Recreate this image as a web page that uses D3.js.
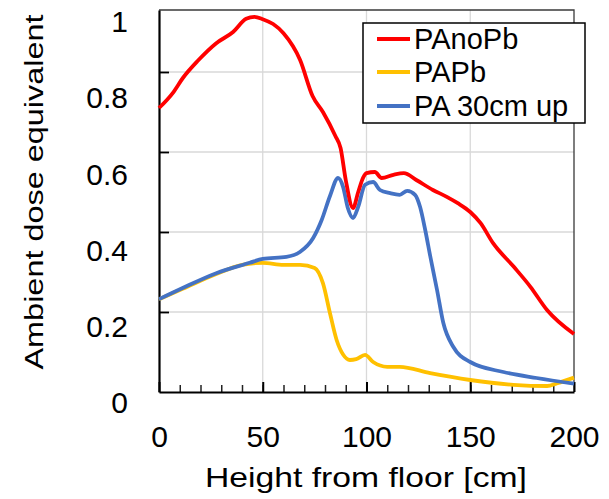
<!DOCTYPE html>
<html>
<head>
<meta charset="utf-8">
<script src="https://cdn.jsdelivr.net/npm/d3@7"></script>
<style>
  body { margin: 0; background: #fff; }
  text { font-family: "Liberation Sans", Arial, sans-serif; fill: #000; }
</style>
</head>
<body>
<script>
const width = 609;
const height = 499;

// plot box in pixels
const plotLeft = 159, plotRight = 574, plotTop = 10, plotBottom = 392;

// series (height in cm, relative dose)
const redX = [0, 6.7, 11.5, 18.7, 27.6, 35.7, 42, 46, 50, 55, 60, 68, 74, 79, 85, 87.5, 90, 93.5, 96, 98.5, 100, 104, 107.3, 113, 118, 124, 132, 138.7, 144, 150, 155, 161, 171, 179, 187, 200];
const redY = [0.71, 0.748, 0.785, 0.828, 0.872, 0.9, 0.933, 0.938, 0.932, 0.92, 0.897, 0.83, 0.74, 0.7, 0.64, 0.61, 0.53, 0.46, 0.5, 0.537, 0.547, 0.55, 0.535, 0.543, 0.547, 0.53, 0.505, 0.488, 0.472, 0.45, 0.422, 0.372, 0.313, 0.263, 0.205, 0.145];

const yellowX = [0, 11.4, 27.6, 40, 50, 60, 68, 75, 79, 82.4, 85.6, 88.8, 92, 95, 99.3, 103.2, 110, 116, 130.7, 150, 170.8, 187, 192, 200];
const yellowY = [0.232, 0.258, 0.295, 0.318, 0.323, 0.318, 0.318, 0.31, 0.272, 0.197, 0.13, 0.093, 0.08, 0.082, 0.093, 0.075, 0.063, 0.063, 0.047, 0.03, 0.018, 0.015, 0.022, 0.036];

const blueX = [0, 11.4, 27.6, 43.7, 50, 61.4, 67.9, 74.3, 78.4, 82.4, 86.3, 88.7, 91, 93.5, 96, 99.3, 103.2, 106.5, 111.4, 116, 119.6, 123.4, 125.8, 128.3, 130.7, 134, 137, 141.8, 150, 166, 182, 200];
const blueY = [0.232, 0.26, 0.297, 0.323, 0.333, 0.338, 0.35, 0.385, 0.43, 0.49, 0.535, 0.513, 0.46, 0.435, 0.463, 0.518, 0.525, 0.505, 0.497, 0.493, 0.503, 0.493, 0.463, 0.405, 0.34, 0.255, 0.173, 0.113, 0.075, 0.05, 0.035, 0.021];

const seriesNames = ["PAnoPb", "PAPb", "PA 30cm up"];
const seriesColors = ["#ff0000", "#ffc000", "#4472c4"];

const xTicksMajor = [0, 50, 100, 150, 200];
const xTicksMinor = d3.range(10, 200, 10);
const yGrid = [0.2, 0.4, 0.6, 0.8];
const yTickLabels = [0, 0.2, 0.4, 0.6, 0.8, 1];

const svg = d3.select("body")
    .append("svg")
    .attr("width", width)
    .attr("height", height);

const xScale = d3.scaleLinear()
    .domain([0, 200])
    .range([plotLeft, plotRight]);

const yScale = d3.scaleLinear()
    .domain([0, 0.955])
    .range([plotBottom, plotTop]);

// labels on the left sit a bit lower than the gridlines in the original
const yLabelScale = d3.scaleLinear()
    .domain([0, 1])
    .range([403, 22]);

// gridlines
svg.append("g")
    .selectAll("line")
    .data([50, 100, 150])
    .join("line")
    .attr("x1", d => xScale(d)).attr("x2", d => xScale(d))
    .attr("y1", plotTop).attr("y2", plotBottom)
    .attr("stroke", "#d9d9d9").attr("stroke-width", 1.3);

svg.append("g")
    .selectAll("line")
    .data(yGrid)
    .join("line")
    .attr("x1", plotLeft).attr("x2", plotRight)
    .attr("y1", d => yScale(d)).attr("y2", d => yScale(d))
    .attr("stroke", "#d9d9d9").attr("stroke-width", 1.3);

// frame top/right
svg.append("path")
    .attr("d", `M${plotLeft},${plotTop}H${plotRight}V${plotBottom}`)
    .attr("fill", "none")
    .attr("stroke", "#3a3a3a")
    .attr("stroke-width", 1.3);

// x axis: minor ticks pointing up
svg.append("g")
    .attr("transform", `translate(0,${plotBottom})`)
    .call(d3.axisBottom(xScale).tickValues(xTicksMinor).tickSize(-7).tickFormat(""))
    .call(g => g.select(".domain").remove())
    .selectAll("line").attr("stroke", "#222").attr("stroke-width", 1.5);

// x axis: major ticks + labels
const xAxisG = svg.append("g")
    .attr("transform", `translate(0,${plotBottom})`)
    .call(d3.axisBottom(xScale).tickValues(xTicksMajor).tickSize(-10).tickPadding(34).tickSizeOuter(0));
xAxisG.select(".domain").attr("stroke", "#000").attr("stroke-width", 2.2);
xAxisG.selectAll("line").attr("stroke", "#000").attr("stroke-width", 2);
xAxisG.selectAll("text")
    .style("font-size", "30px")
    .style("font-family", "'Liberation Sans', Arial, sans-serif")
    .attr("fill", "#000");

// y axis line + inward ticks
const yAxisG = svg.append("g")
    .attr("transform", `translate(${plotLeft},0)`)
    .call(d3.axisLeft(yScale).tickValues(yGrid).tickSize(-10).tickFormat("").tickSizeOuter(0));
yAxisG.select(".domain").attr("stroke", "#000").attr("stroke-width", 2.2);
yAxisG.selectAll("line").attr("stroke", "#000").attr("stroke-width", 1.8);

// y tick labels
const yLab = svg.append("g")
    .attr("transform", "translate(131,0)")
    .call(d3.axisLeft(yLabelScale).tickValues(yTickLabels).tickSize(0).tickPadding(3).tickFormat(d => String(d)));
yLab.select(".domain").remove();
yLab.selectAll("text")
    .style("font-size", "30px")
    .style("font-family", "'Liberation Sans', Arial, sans-serif")
    .attr("fill", "#000");

// axis titles
svg.append("text")
    .attr("x", 366)
    .attr("y", 487)
    .attr("text-anchor", "middle")
    .attr("textLength", 322)
    .attr("lengthAdjust", "spacingAndGlyphs")
    .style("font-size", "28px")
    .text("Height from floor [cm]");

svg.append("text")
    .attr("transform", "translate(43,192) rotate(-90)")
    .attr("text-anchor", "middle")
    .attr("textLength", 355)
    .attr("lengthAdjust", "spacingAndGlyphs")
    .style("font-size", "25px")
    .text("Ambient dose equivalent");

// curves
const line = d3.line()
    .x(d => xScale(d.x))
    .y(d => yScale(d.y))
    .curve(d3.curveMonotoneX);

function pts(xs, ys) {
    return xs.map((x, i) => ({ x: x, y: ys[i] }));
}

const curves = [
    { pts: pts(yellowX, yellowY), color: seriesColors[1] },
    { pts: pts(blueX, blueY), color: seriesColors[2] },
    { pts: pts(redX, redY), color: seriesColors[0] }
];

curves.forEach(c => {
    svg.append("path")
        .datum(c.pts)
        .attr("d", line)
        .attr("fill", "none")
        .attr("stroke", c.color)
        .attr("stroke-width", 3.8)
        .attr("stroke-linejoin", "round");
});

// legend
const legend = svg.append("g");
legend.append("rect")
    .attr("x", 363).attr("y", 23)
    .attr("width", 222).attr("height", 100)
    .attr("fill", "#fff")
    .attr("stroke", "#000")
    .attr("stroke-width", 1.5);

const legendY = [39, 72, 106];
seriesNames.forEach((name, i) => {
    legend.append("line")
        .attr("x1", 377).attr("x2", 410)
        .attr("y1", legendY[i]).attr("y2", legendY[i])
        .attr("stroke", seriesColors[i])
        .attr("stroke-width", 4);
    legend.append("text")
        .attr("x", 414)
        .attr("y", legendY[i])
        .attr("dy", "0.35em")
        .style("font-size", "29px")
        .text(name);
});
</script>
</body>
</html>
